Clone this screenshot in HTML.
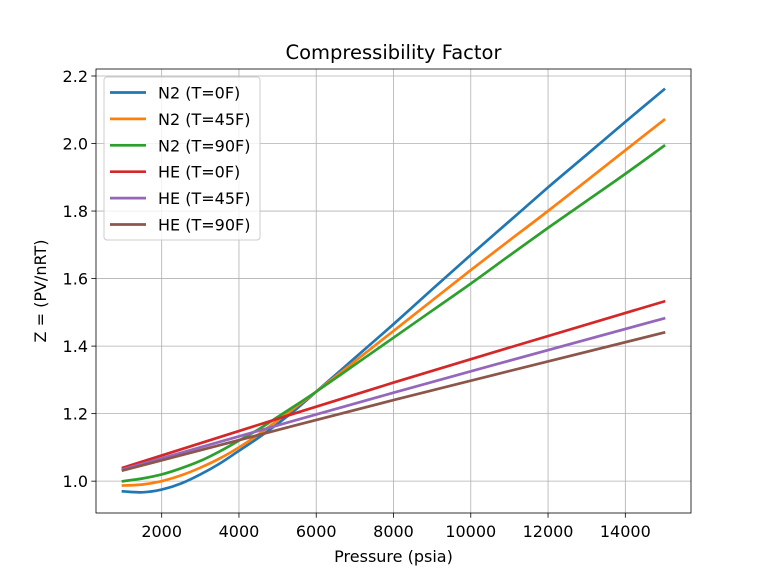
<!DOCTYPE html>
<html><head><meta charset="utf-8"><style>
body{margin:0;background:#fff;}
svg{display:block;font-family:"DejaVu Sans","Liberation Sans",sans-serif;}
</style></head><body>
<svg id="chart" width="768" height="576">
<rect width="768" height="576" fill="#fff"/>
<g id="grid"></g><g id="lines"></g><g id="axes"></g><g id="legend"></g>
</svg>
<script>
const pressures = [1000,1500,2000,2500,3000,3500,4000,4500,5000,5500,6000,7000,8000,9000,10000,11000,12000,13000,14000,15000];
const n2_0 = [0.970,0.967,0.975,0.993,1.020,1.052,1.090,1.128,1.170,1.215,1.265,1.365,1.465,1.568,1.670,1.770,1.870,1.967,2.064,2.160];
const n2_45 = [0.987,0.990,1.000,1.017,1.040,1.067,1.100,1.138,1.180,1.222,1.265,1.355,1.445,1.535,1.625,1.713,1.800,1.890,1.980,2.070];
const n2_90 = [1.000,1.008,1.020,1.038,1.060,1.088,1.120,1.153,1.190,1.227,1.265,1.345,1.425,1.505,1.585,1.668,1.750,1.830,1.910,1.993];
const heP = [1000,8000,15000];
const he_0 = [1.040,1.292,1.532];
const he_45 = [1.035,1.262,1.482];
const he_90 = [1.032,1.240,1.440];
const seriesNames = ["N2 (T=0F)","N2 (T=45F)","N2 (T=90F)","HE (T=0F)","HE (T=45F)","HE (T=90F)"];
const xTicks = [2000,4000,6000,8000,10000,12000,14000];
const yTicks = [1.0,1.2,1.4,1.6,1.8,2.0,2.2];

const L=96,R=691,T=69,B=513;
const xMin=300,xMax=15700,yMin=0.9057,yMax=2.2207;
const X=v=>L+(v-xMin)/(xMax-xMin)*(R-L);
const Y=v=>B-(v-yMin)/(yMax-yMin)*(B-T);
const NS="http://www.w3.org/2000/svg";
function mk(tag,attrs,parent,text){const e=document.createElementNS(NS,tag);for(const k in attrs)e.setAttribute(k,attrs[k]);if(text!==undefined)e.textContent=text;parent.appendChild(e);return e;}
function smooth(px,py){let d='M'+px[0].toFixed(1)+','+py[0].toFixed(1);
for(let i=0;i<px.length-1;i++){const i0=Math.max(0,i-1),i3=Math.min(px.length-1,i+2);
const c1x=px[i]+(px[i+1]-px[i0])/6,c1y=py[i]+(py[i+1]-py[i0])/6;
const c2x=px[i+1]-(px[i3]-px[i])/6,c2y=py[i+1]-(py[i3]-py[i])/6;
d+=` C${c1x.toFixed(1)},${c1y.toFixed(1)} ${c2x.toFixed(1)},${c2y.toFixed(1)} ${px[i+1].toFixed(1)},${py[i+1].toFixed(1)}`;}return d;}
const grid=document.getElementById('grid'),lines=document.getElementById('lines'),axes=document.getElementById('axes'),leg=document.getElementById('legend');
const FS=16;
xTicks.forEach(t=>{const g=mk('line',{x1:X(t),x2:X(t),y1:T,y2:B,stroke:'#b0b0b0','stroke-width':0.8},grid);

mk('line',{x1:X(t),x2:X(t),y1:B,y2:B+4.7,stroke:'#000','stroke-width':0.8},axes);
const tx=mk('text',{x:X(t),y:B+24,'text-anchor':'middle','font-size':FS},axes,String(t));
});
yTicks.forEach(t=>{const g=mk('line',{x1:L,x2:R,y1:Y(t),y2:Y(t),stroke:'#b0b0b0','stroke-width':0.8},grid);

mk('line',{x1:L-4.7,x2:L,y1:Y(t),y2:Y(t),stroke:'#000','stroke-width':0.8},axes);
const tx=mk('text',{x:L-8,y:Y(t)+6,'text-anchor':'end','font-size':FS},axes,t.toFixed(1));
});
const colors=['#1f77b4','#ff7f0e','#2ca02c','#d62728','#9467bd','#8c564b'];
const data=[[pressures,n2_0],[pressures,n2_45],[pressures,n2_90],[heP,he_0],[heP,he_45],[heP,he_90]];
data.forEach((d,i)=>{const px=d[0].map(X),py=d[1].map(Y);
const pl=mk('path',{d:smooth(px,py),fill:'none',stroke:colors[i],'stroke-width':2.7,'stroke-linejoin':'round','stroke-linecap':'square'},lines);
});
const frame=mk('rect',{x:L,y:T,width:R-L,height:B-T,fill:'none',stroke:'#000','stroke-width':0.8},axes);

const title=mk('text',{x:(L+R)/2,y:59,'text-anchor':'middle','font-size':19.5},axes,'Compressibility Factor');

const xl=mk('text',{x:(L+R)/2,y:562,'text-anchor':'middle','font-size':FS},axes,'Pressure (psia)');

const yl=mk('text',{x:0,y:0,'text-anchor':'middle','font-size':FS,transform:`translate(46,${(T+B)/2}) rotate(-90)`},axes,'Z = (PV/nRT)');

const box=mk('rect',{x:104,y:77,width:156,height:163,rx:3,fill:'#fff','fill-opacity':0.8,stroke:'#ccc','stroke-width':1},leg);

seriesNames.forEach((n,i)=>{const y=92.5+i*26.4;
const g=mk('g',{},leg);
mk('line',{x1:110,x2:146,y1:y,y2:y,stroke:colors[i],'stroke-width':2.7},g);
mk('text',{x:158,y:y+6,'font-size':FS},g,n);});
</script>
</body></html>
